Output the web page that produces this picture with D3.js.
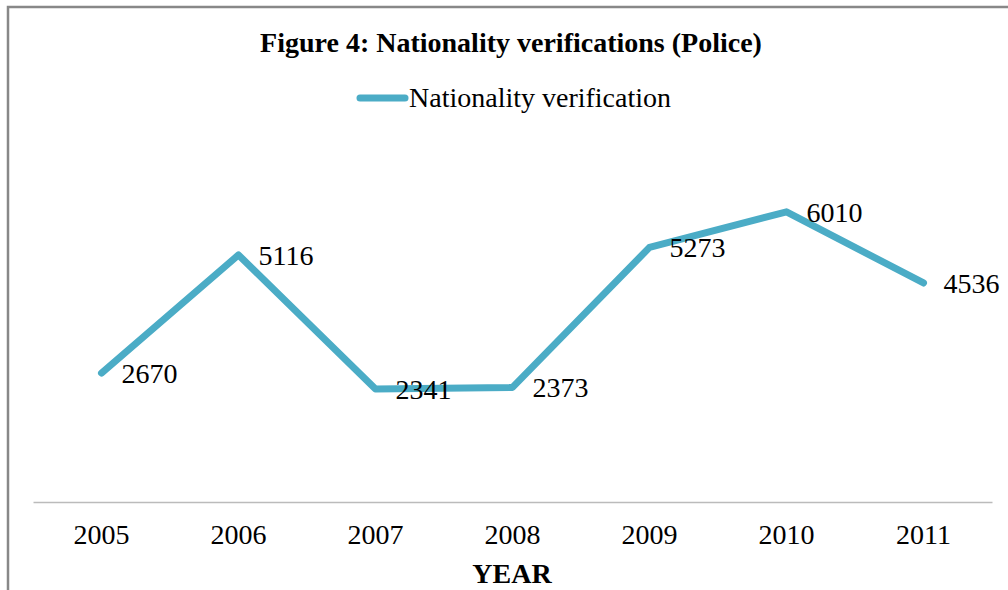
<!DOCTYPE html>
<html><head><meta charset="utf-8">
<script src="https://cdn.jsdelivr.net/npm/d3@7"></script>
<style>body{margin:0;background:#fff}svg{display:block}text{font-family:"Liberation Serif","Times New Roman",serif;fill:#000}</style>
</head><body>
<script>
const years = ["2005","2006","2007","2008","2009","2010","2011"];
const verifications = [2670, 5116, 2341, 2373, 5273, 6010, 4536];
const seriesName = "Nationality verification";
const title = "Figure 4: Nationality verifications (Police)";
const xTitle = "YEAR";

const W = 1008, H = 590;
const svg = d3.select("body").append("svg").attr("width", W).attr("height", H);

// frame (top and left edges visible)
svg.append("path").attr("d", `M8,${H} L8,7 L${W},7`).attr("fill","none").attr("stroke","#888").attr("stroke-width",2.5);

const x = d3.scaleBand().domain(years).range([33, 992]);
const y = d3.scaleLinear().domain([0, 7000]).range([502, 164]);

svg.append("text").attr("x", 511).attr("y", 52).attr("text-anchor","middle")
  .attr("font-weight","bold").attr("font-size", 28).text(title);

// legend
svg.append("line").attr("x1", 360).attr("x2", 405).attr("y1", 98).attr("y2", 98)
  .attr("stroke","#4BACC6").attr("stroke-width",7).attr("stroke-linecap","round");
svg.append("text").attr("x", 409).attr("y", 107).attr("font-size", 28).text(seriesName);

// axis
const ax = svg.append("g").attr("transform","translate(0,502)")
  .call(d3.axisBottom(x).tickSize(0).tickPadding(0));
ax.select(".domain").attr("stroke","#bbb").attr("stroke-width",1.5);
ax.selectAll(".tick text").attr("font-size",28).attr("dy", 0).attr("y", 42)
  .style("font-family",'"Liberation Serif",serif').attr("fill","#000");

svg.append("text").attr("x", 512).attr("y", 583).attr("text-anchor","middle")
  .attr("font-weight","bold").attr("font-size", 28).text(xTitle);

const data = years.map((yr,i)=>({yr, v: verifications[i]}));
const line = d3.line().x(d=>x(d.yr)+x.bandwidth()/2).y(d=>y(d.v));
svg.append("path").datum(data).attr("d", line).attr("fill","none")
  .attr("stroke","#4BACC6").attr("stroke-width",7).attr("stroke-linejoin","round").attr("stroke-linecap","round");

svg.selectAll(".lbl").data(data).enter().append("text").attr("class","lbl")
  .attr("x", d=>x(d.yr)+x.bandwidth()/2+20).attr("y", d=>y(d.v)+10)
  .attr("font-size",28).text(d=>d.v);
</script>
</body></html>
